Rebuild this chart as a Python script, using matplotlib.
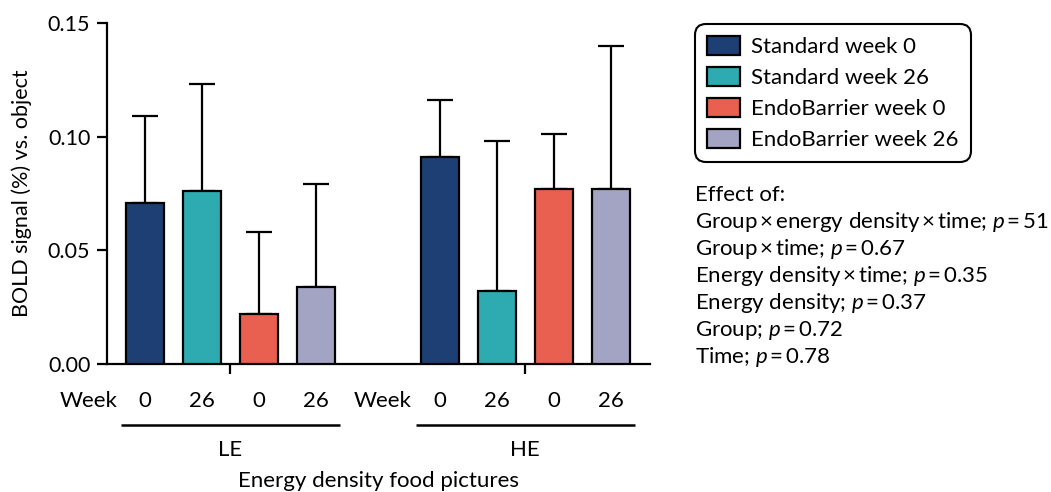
import matplotlib
matplotlib.use("Agg")
import matplotlib.pyplot as plt
import matplotlib.transforms as mtransforms

plt.rcParams['font.family'] = ['Lato', 'DejaVu Sans']
plt.rcParams['mathtext.fontset'] = 'custom'
plt.rcParams['mathtext.it'] = 'Lato:italic'
plt.rcParams['mathtext.rm'] = 'Lato'

# ---- data ----
groups = ["LE", "HE"]
series = ["Standard week 0", "Standard week 26", "EndoBarrier week 0", "EndoBarrier week 26"]
week_labels = ["0", "26", "0", "26"]
means = {
    "LE": [0.071, 0.076, 0.022, 0.034],
    "HE": [0.091, 0.032, 0.077, 0.077],
}
upper = {
    "LE": [0.109, 0.123, 0.058, 0.079],
    "HE": [0.116, 0.098, 0.101, 0.140],
}
colors = ["#1E3F73", "#2DABB1", "#E96050", "#A3A4C3"]
effect_lines = [
    "Effect of:",
    "Group\u2009\u00d7\u2009energy density\u2009\u00d7\u2009time; $p$\u2009=\u200951",
    "Group\u2009\u00d7\u2009time; $p$\u2009=\u20090.67",
    "Energy density\u2009\u00d7\u2009time; $p$\u2009=\u20090.35",
    "Energy density; $p$\u2009=\u20090.37",
    "Group; $p$\u2009=\u20090.72",
    "Time; $p$\u2009=\u20090.78",
]
yticks = [0.0, 0.05, 0.10, 0.15]

# ---- layout ----
W, H = 1051, 492
fig = plt.figure(figsize=(W / 100, H / 100), dpi=100)
ax = fig.add_axes([107 / W, (H - 364) / H, (650 - 107) / W, (364 - 23) / H])

FS = 16
bar_w = 0.667
group_start = [0.667, 5.84]
group_centers = []
for gi, g in enumerate(groups):
    xs = [group_start[gi] + i for i in range(len(series))]
    group_centers.append(sum(xs) / len(xs))
    for i, x in enumerate(xs):
        v = means[g][i]
        ax.bar(x, v, width=bar_w, color=colors[i], edgecolor="black", linewidth=1.6,
               label=series[i] if gi == 0 else None, zorder=3)
        ax.errorbar(x, v, yerr=[[0], [upper[g][i] - v]], fmt="none", ecolor="black",
                    elinewidth=1.6, capsize=9.5, capthick=1.6, zorder=2)

ax.set_xlim(0, 9.53)
ax.set_ylim(0, 0.15)
ax.set_yticks(yticks)
ax.set_yticklabels([f"{t:.2f}" for t in yticks], fontsize=15.5)
ax.set_xticks(group_centers)
ax.set_xticklabels([])
ax.tick_params(axis="both", direction="out", length=7, width=1.6, pad=5)
for s in ["top", "right"]:
    ax.spines[s].set_visible(False)
for s in ["left", "bottom"]:
    ax.spines[s].set_linewidth(1.6)

ax.set_ylabel("BOLD signal (%) vs. object", fontsize=15.5)
ax.yaxis.set_label_coords(-0.139, 0.5)

trans = mtransforms.blended_transform_factory(ax.transData, ax.transAxes)
y_week = (364 - 401) / 341
y_line = (364 - 424.6) / 341
y_grp = (364 - 450) / 341
for gi, g in enumerate(groups):
    xs = [group_start[gi] + i for i in range(len(series))]
    ax.text(xs[0] - 0.49, y_week, "Week", transform=trans, ha="right", va="center", fontsize=FS)
    for x, lab in zip(xs, week_labels):
        ax.text(x, y_week, lab, transform=trans, ha="center", va="center", fontsize=FS)
    c = group_centers[gi]
    ax.plot([c - 1.92, c + 1.92], [y_line, y_line], transform=trans, color="black",
            linewidth=1.8, clip_on=False, solid_capstyle="butt")
    ax.text(c, y_grp, g, transform=trans, ha="center", va="center", fontsize=FS)

ax.text(0.5, (364 - 481) / 341, "Energy density food pictures", transform=ax.transAxes,
        ha="center", va="center", fontsize=FS)

leg = fig.legend(loc="upper left", bbox_to_anchor=(695 / W, 1 - 24 / H), fontsize=FS,
                 frameon=True, fancybox=True, edgecolor="black", handlelength=1.49,
                 handleheight=0.95, handletextpad=0.5, labelspacing=0.44,
                 borderpad=0.54, borderaxespad=0)
leg.get_frame().set_linewidth(1.5)
leg.get_frame().set_alpha(None)
leg.get_frame().set_boxstyle("round,pad=0,rounding_size=0.5")

for i, line in enumerate(effect_lines):
    fig.text(695 / W, 1 - (195 + 27 * i) / H, line, ha="left", va="center", fontsize=FS)

fig.savefig("out.png", dpi=100)
